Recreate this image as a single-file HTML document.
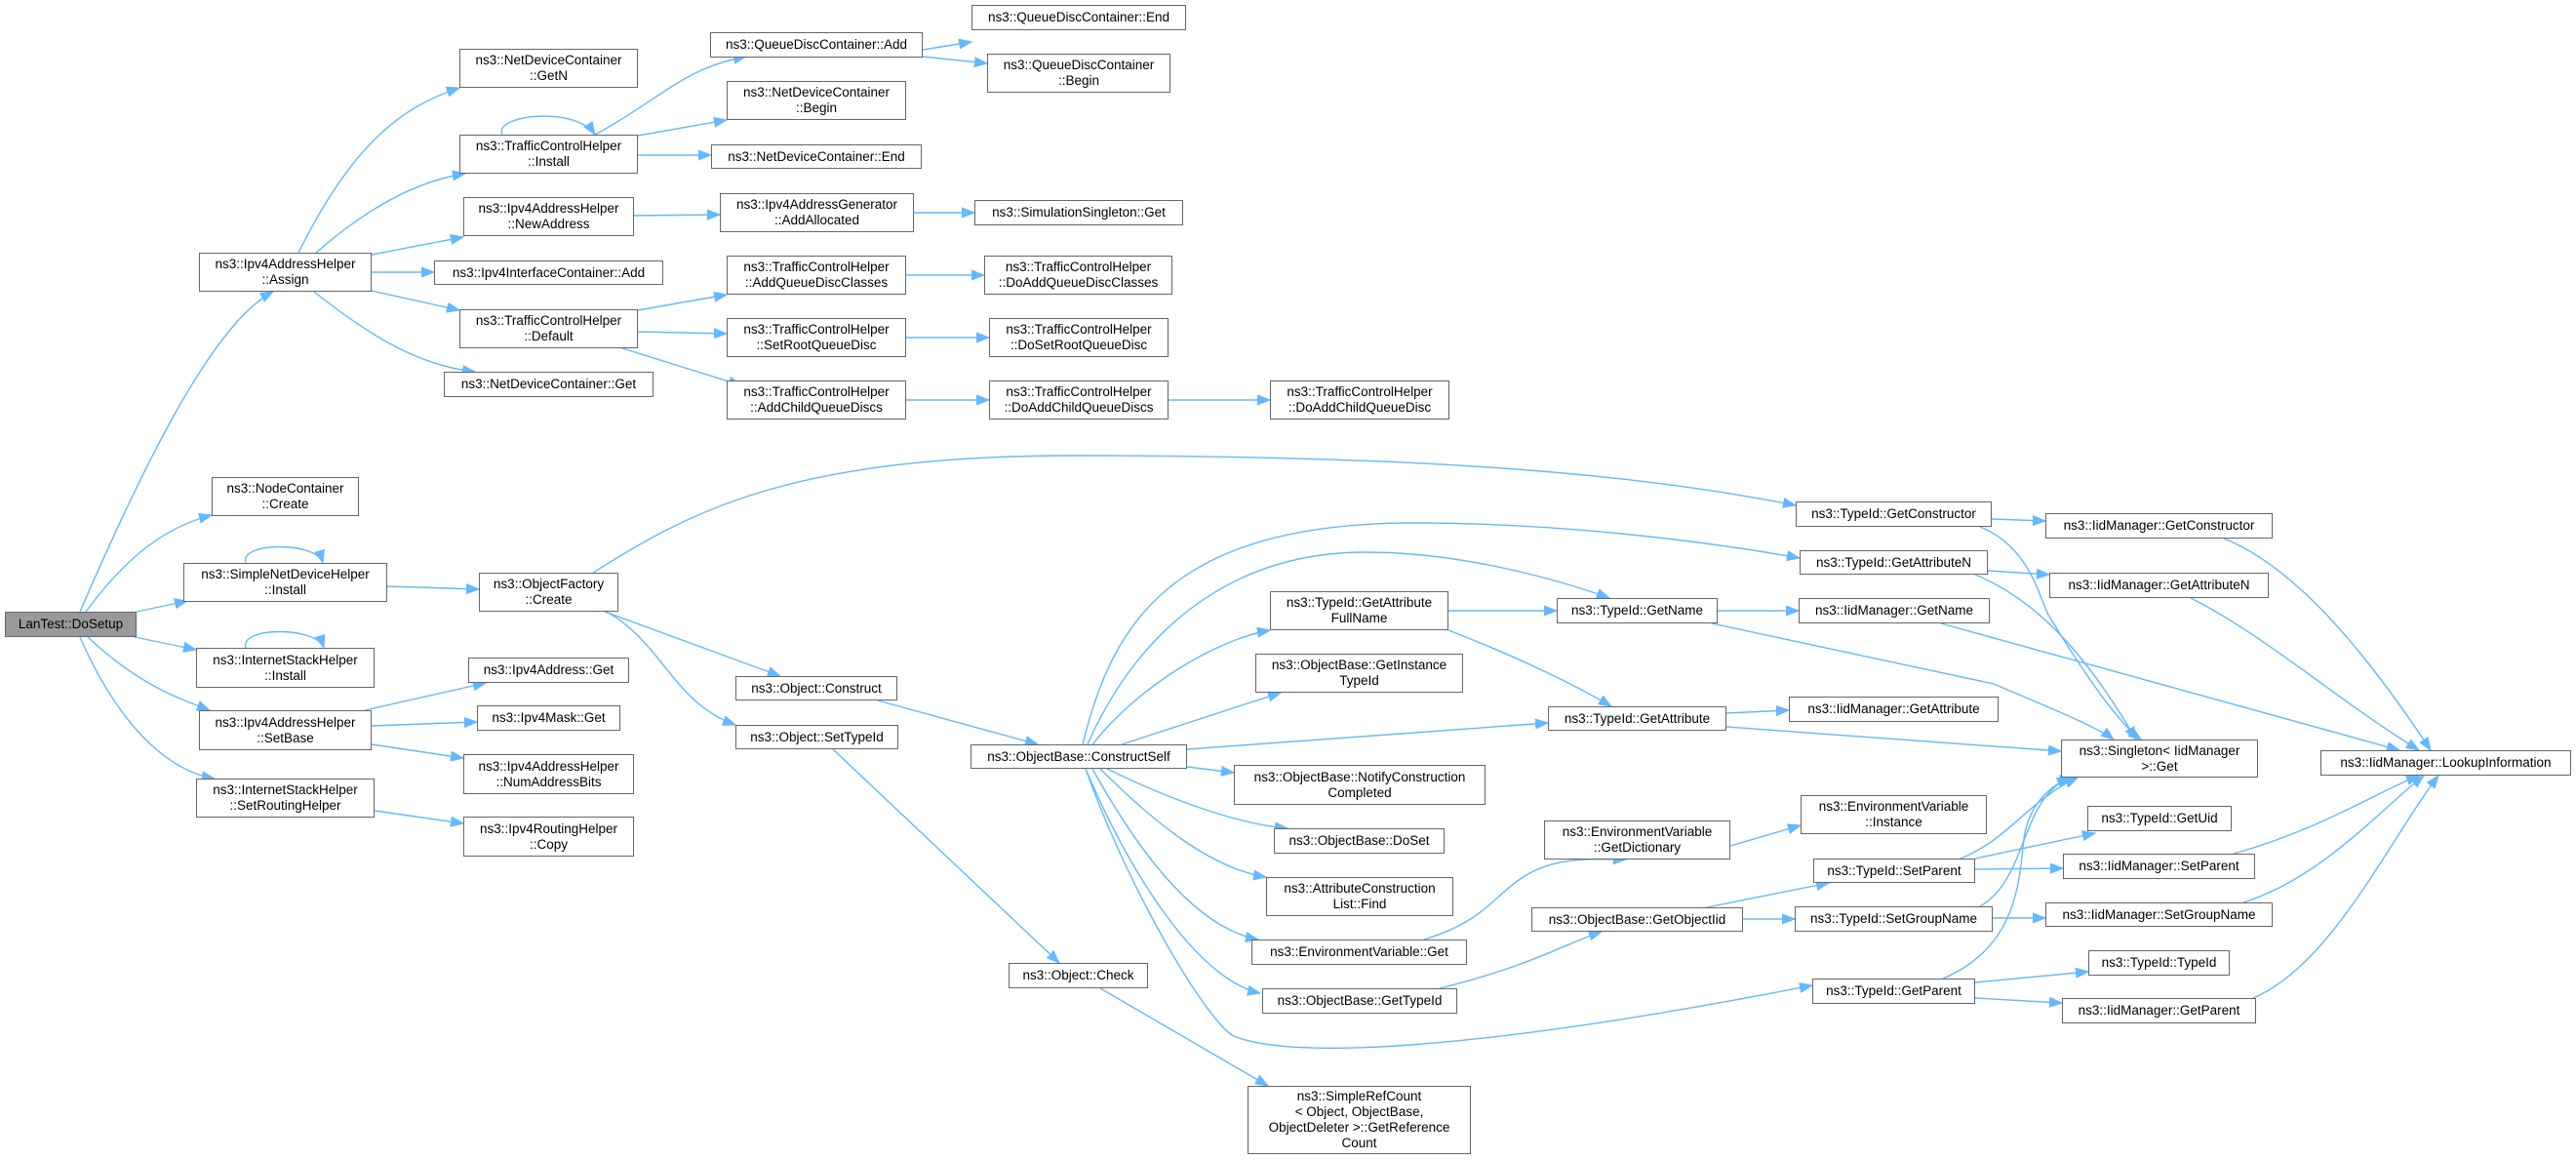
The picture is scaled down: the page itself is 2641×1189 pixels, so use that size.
<!DOCTYPE html>
<html><head><meta charset="utf-8"><style>
html,body{margin:0;padding:0;background:#fff}
body{width:2641px;height:1189px;position:relative;overflow:hidden;font-family:"Liberation Sans",sans-serif}
.n{position:absolute;box-sizing:border-box;border:1.5px solid #666;background:#fff;display:flex;align-items:center;justify-content:center;text-align:center;font-size:13.5px;line-height:16px;color:#000;white-space:nowrap}
.g{background:#999}
svg{position:absolute;left:0;top:0}
path{fill:none;stroke:#63b8ff;stroke-width:1.4}
</style></head><body>
<svg width="2641" height="1189">
<defs><marker id="a" markerWidth="14" markerHeight="12" refX="13" refY="6" orient="auto" markerUnits="userSpaceOnUse"><path d="M0,1 L13,6 L0,11 Z" style="fill:#63b8ff;stroke:#63b8ff;stroke-width:1"/></marker></defs>
<g marker-end="url(#a)">
<path d="M82,627 C150,470 220,330 280,299"/>
<path d="M88,627 C130,570 170,540 217,528"/>
<path d="M140,627 L192,616"/>
<path d="M138,653 L201,666"/>
<path d="M90,653 C140,700 180,715 215,728"/>
<path d="M82,653 C120,740 170,790 220,798"/>
<path d="M306,259 C360,150 410,110 471,90"/>
<path d="M324,259 C380,210 430,185 477,178"/>
<path d="M381,261 L475,243"/>
<path d="M381,279 L445,279"/>
<path d="M381,298 L471,318"/>
<path d="M322,299 C380,345 430,375 487,381"/>
<path d="M515,138 C505,118 590,108 610,138"/>
<path d="M610,138 C680,100 700,70 765,58"/>
<path d="M654,139 L745,123"/>
<path d="M654,159 L729,159"/>
<path d="M946,51 L996,43"/>
<path d="M946,58 L1012,65"/>
<path d="M650,221 L738,220"/>
<path d="M937,218 L999,218"/>
<path d="M654,318 L745,302"/>
<path d="M654,340 L745,342"/>
<path d="M638,357 L760,395"/>
<path d="M929,282 L1009,282"/>
<path d="M929,346 L1014,346"/>
<path d="M929,410 L1014,410"/>
<path d="M1198,410 L1302,410"/>
<path d="M252,577 C245,555 325,555 331,577"/>
<path d="M397,601 L491,604"/>
<path d="M252,664 C245,642 325,642 332,664"/>
<path d="M374,728 L498,700"/>
<path d="M381,744 L489,740"/>
<path d="M381,763 L475,777"/>
<path d="M384,831 L475,844"/>
<path d="M608,587 C700,530 800,467 1100,467 C1500,467 1700,490 1841,518"/>
<path d="M620,627 L800,693"/>
<path d="M622,627 C680,660 690,720 754,743"/>
<path d="M900,718 L1064,763"/>
<path d="M854,768 L1086,987"/>
<path d="M1128,1013 L1300,1113"/>
<path d="M1110,763 C1140,640 1200,536 1450,536 C1600,536 1750,555 1845,572"/>
<path d="M1115,763 C1160,660 1250,566 1400,566 C1500,566 1600,595 1650,613"/>
<path d="M1120,763 C1170,700 1250,655 1302,646"/>
<path d="M1150,763 L1313,710"/>
<path d="M1217,768 L1587,741"/>
<path d="M1217,786 L1265,792"/>
<path d="M1135,788 C1200,820 1270,845 1320,849"/>
<path d="M1128,788 C1180,840 1240,890 1298,899"/>
<path d="M1120,788 C1160,860 1220,950 1290,963"/>
<path d="M1113,788 C1160,900 1230,1005 1292,1018"/>
<path d="M1113,788 C1160,920 1240,1050 1265,1062 C1320,1085 1500,1080 1858,1010"/>
<path d="M1485,626 L1596,626"/>
<path d="M1485,646 C1560,675 1620,705 1652,724"/>
<path d="M1761,626 L1844,626"/>
<path d="M1755,639 L2044,701 C2100,725 2150,745 2167,758"/>
<path d="M1770,731 L1834,728"/>
<path d="M1770,745 L2113,770"/>
<path d="M2042,532 L2097,534"/>
<path d="M2030,540 C2080,560 2090,610 2100,630 C2130,680 2170,740 2195,758"/>
<path d="M2038,585 L2101,589"/>
<path d="M2025,589 C2100,620 2150,690 2190,758"/>
<path d="M1990,639 L2460,769"/>
<path d="M2280,552 C2350,580 2420,660 2492,769"/>
<path d="M2246,613 C2320,650 2400,720 2480,769"/>
<path d="M1460,963 C1520,945 1530,920 1560,900 C1590,880 1620,880 1667,881"/>
<path d="M1774,867 L1846,846"/>
<path d="M1476,1013 C1570,990 1610,965 1642,955"/>
<path d="M1750,930 L1875,905"/>
<path d="M1787,942 L1840,942"/>
<path d="M2010,880 C2060,860 2080,820 2130,797"/>
<path d="M2025,880 L2148,854"/>
<path d="M2025,891 L2115,890"/>
<path d="M2030,929 C2080,900 2070,820 2122,797"/>
<path d="M2043,941 L2097,941"/>
<path d="M1992,1003 C2070,970 2070,900 2075,860 C2080,820 2110,800 2125,797"/>
<path d="M2025,1007 L2141,996"/>
<path d="M2025,1023 L2114,1028"/>
<path d="M2290,875 C2380,850 2440,810 2480,795"/>
<path d="M2300,925 C2380,900 2440,830 2485,795"/>
<path d="M2310,1023 C2390,990 2450,860 2500,795"/>
</g></svg>

<div class="n g" style="left:5px;top:627px;width:135px;height:26px">LanTest::DoSetup</div>
<div class="n" style="left:204px;top:259px;width:177px;height:40px">ns3::Ipv4AddressHelper<br>::Assign</div>
<div class="n" style="left:217px;top:489px;width:151px;height:40px">ns3::NodeContainer<br>::Create</div>
<div class="n" style="left:188px;top:577px;width:209px;height:40px">ns3::SimpleNetDeviceHelper<br>::Install</div>
<div class="n" style="left:201px;top:664px;width:183px;height:41px">ns3::InternetStackHelper<br>::Install</div>
<div class="n" style="left:204px;top:728px;width:177px;height:41px">ns3::Ipv4AddressHelper<br>::SetBase</div>
<div class="n" style="left:201px;top:798px;width:183px;height:40px">ns3::InternetStackHelper<br>::SetRoutingHelper</div>

<div class="n" style="left:471px;top:50px;width:183px;height:40px">ns3::NetDeviceContainer<br>::GetN</div>
<div class="n" style="left:471px;top:138px;width:183px;height:40px">ns3::TrafficControlHelper<br>::Install</div>
<div class="n" style="left:475px;top:202px;width:175px;height:40px">ns3::Ipv4AddressHelper<br>::NewAddress</div>
<div class="n" style="left:445px;top:267px;width:235px;height:25px">ns3::Ipv4InterfaceContainer::Add</div>
<div class="n" style="left:471px;top:317px;width:183px;height:40px">ns3::TrafficControlHelper<br>::Default</div>
<div class="n" style="left:455px;top:381px;width:215px;height:26px">ns3::NetDeviceContainer::Get</div>
<div class="n" style="left:480px;top:674px;width:165px;height:26px">ns3::Ipv4Address::Get</div>
<div class="n" style="left:489px;top:723px;width:147px;height:26px">ns3::Ipv4Mask::Get</div>
<div class="n" style="left:475px;top:773px;width:175px;height:41px">ns3::Ipv4AddressHelper<br>::NumAddressBits</div>
<div class="n" style="left:475px;top:837px;width:175px;height:41px">ns3::Ipv4RoutingHelper<br>::Copy</div>
<div class="n" style="left:491px;top:587px;width:143px;height:40px">ns3::ObjectFactory<br>::Create</div>

<div class="n" style="left:728px;top:33px;width:218px;height:26px">ns3::QueueDiscContainer::Add</div>
<div class="n" style="left:745px;top:83px;width:184px;height:40px">ns3::NetDeviceContainer<br>::Begin</div>
<div class="n" style="left:729px;top:148px;width:216px;height:25px">ns3::NetDeviceContainer::End</div>
<div class="n" style="left:738px;top:198px;width:199px;height:40px">ns3::Ipv4AddressGenerator<br>::AddAllocated</div>
<div class="n" style="left:745px;top:262px;width:184px;height:40px">ns3::TrafficControlHelper<br>::AddQueueDiscClasses</div>
<div class="n" style="left:745px;top:326px;width:184px;height:40px">ns3::TrafficControlHelper<br>::SetRootQueueDisc</div>
<div class="n" style="left:745px;top:390px;width:184px;height:40px">ns3::TrafficControlHelper<br>::AddChildQueueDiscs</div>
<div class="n" style="left:754px;top:693px;width:166px;height:25px">ns3::Object::Construct</div>
<div class="n" style="left:754px;top:743px;width:167px;height:25px">ns3::Object::SetTypeId</div>

<div class="n" style="left:996px;top:5px;width:220px;height:26px">ns3::QueueDiscContainer::End</div>
<div class="n" style="left:1012px;top:55px;width:188px;height:40px">ns3::QueueDiscContainer<br>::Begin</div>
<div class="n" style="left:999px;top:205px;width:214px;height:26px">ns3::SimulationSingleton::Get</div>
<div class="n" style="left:1009px;top:262px;width:193px;height:40px">ns3::TrafficControlHelper<br>::DoAddQueueDiscClasses</div>
<div class="n" style="left:1014px;top:326px;width:184px;height:40px">ns3::TrafficControlHelper<br>::DoSetRootQueueDisc</div>
<div class="n" style="left:1014px;top:390px;width:184px;height:40px">ns3::TrafficControlHelper<br>::DoAddChildQueueDiscs</div>
<div class="n" style="left:1302px;top:390px;width:184px;height:40px">ns3::TrafficControlHelper<br>::DoAddChildQueueDisc</div>
<div class="n" style="left:995px;top:763px;width:222px;height:25px">ns3::ObjectBase::ConstructSelf</div>
<div class="n" style="left:1034px;top:987px;width:143px;height:26px">ns3::Object::Check</div>

<div class="n" style="left:1302px;top:606px;width:183px;height:40px">ns3::TypeId::GetAttribute<br>FullName</div>
<div class="n" style="left:1287px;top:670px;width:213px;height:40px">ns3::ObjectBase::GetInstance<br>TypeId</div>
<div class="n" style="left:1265px;top:784px;width:258px;height:41px">ns3::ObjectBase::NotifyConstruction<br>Completed</div>
<div class="n" style="left:1306px;top:849px;width:175px;height:26px">ns3::ObjectBase::DoSet</div>
<div class="n" style="left:1298px;top:899px;width:192px;height:40px">ns3::AttributeConstruction<br>List::Find</div>
<div class="n" style="left:1283px;top:963px;width:221px;height:26px">ns3::EnvironmentVariable::Get</div>
<div class="n" style="left:1294px;top:1013px;width:200px;height:26px">ns3::ObjectBase::GetTypeId</div>
<div class="n" style="left:1279px;top:1113px;width:229px;height:70px">ns3::SimpleRefCount<br>&lt; Object, ObjectBase,<br>ObjectDeleter &gt;::GetReference<br>Count</div>

<div class="n" style="left:1596px;top:613px;width:165px;height:26px">ns3::TypeId::GetName</div>
<div class="n" style="left:1587px;top:724px;width:183px;height:25px">ns3::TypeId::GetAttribute</div>
<div class="n" style="left:1583px;top:841px;width:191px;height:40px">ns3::EnvironmentVariable<br>::GetDictionary</div>
<div class="n" style="left:1570px;top:930px;width:217px;height:25px">ns3::ObjectBase::GetObjectIid</div>

<div class="n" style="left:1841px;top:514px;width:201px;height:26px">ns3::TypeId::GetConstructor</div>
<div class="n" style="left:1845px;top:564px;width:193px;height:25px">ns3::TypeId::GetAttributeN</div>
<div class="n" style="left:1844px;top:613px;width:196px;height:26px">ns3::IidManager::GetName</div>
<div class="n" style="left:1834px;top:714px;width:215px;height:26px">ns3::IidManager::GetAttribute</div>
<div class="n" style="left:1846px;top:815px;width:191px;height:40px">ns3::EnvironmentVariable<br>::Instance</div>
<div class="n" style="left:1859px;top:880px;width:166px;height:25px">ns3::TypeId::SetParent</div>
<div class="n" style="left:1840px;top:929px;width:203px;height:26px">ns3::TypeId::SetGroupName</div>
<div class="n" style="left:1858px;top:1003px;width:167px;height:26px">ns3::TypeId::GetParent</div>

<div class="n" style="left:2097px;top:526px;width:233px;height:26px">ns3::IidManager::GetConstructor</div>
<div class="n" style="left:2101px;top:587px;width:225px;height:26px">ns3::IidManager::GetAttributeN</div>
<div class="n" style="left:2113px;top:758px;width:202px;height:39px">ns3::Singleton&lt; IidManager<br>&gt;::Get</div>
<div class="n" style="left:2140px;top:826px;width:148px;height:26px">ns3::TypeId::GetUid</div>
<div class="n" style="left:2115px;top:875px;width:197px;height:26px">ns3::IidManager::SetParent</div>
<div class="n" style="left:2097px;top:925px;width:233px;height:25px">ns3::IidManager::SetGroupName</div>
<div class="n" style="left:2141px;top:974px;width:145px;height:26px">ns3::TypeId::TypeId</div>
<div class="n" style="left:2114px;top:1023px;width:199px;height:26px">ns3::IidManager::GetParent</div>
<div class="n" style="left:2379px;top:769px;width:257px;height:26px">ns3::IidManager::LookupInformation</div>
</body></html>
